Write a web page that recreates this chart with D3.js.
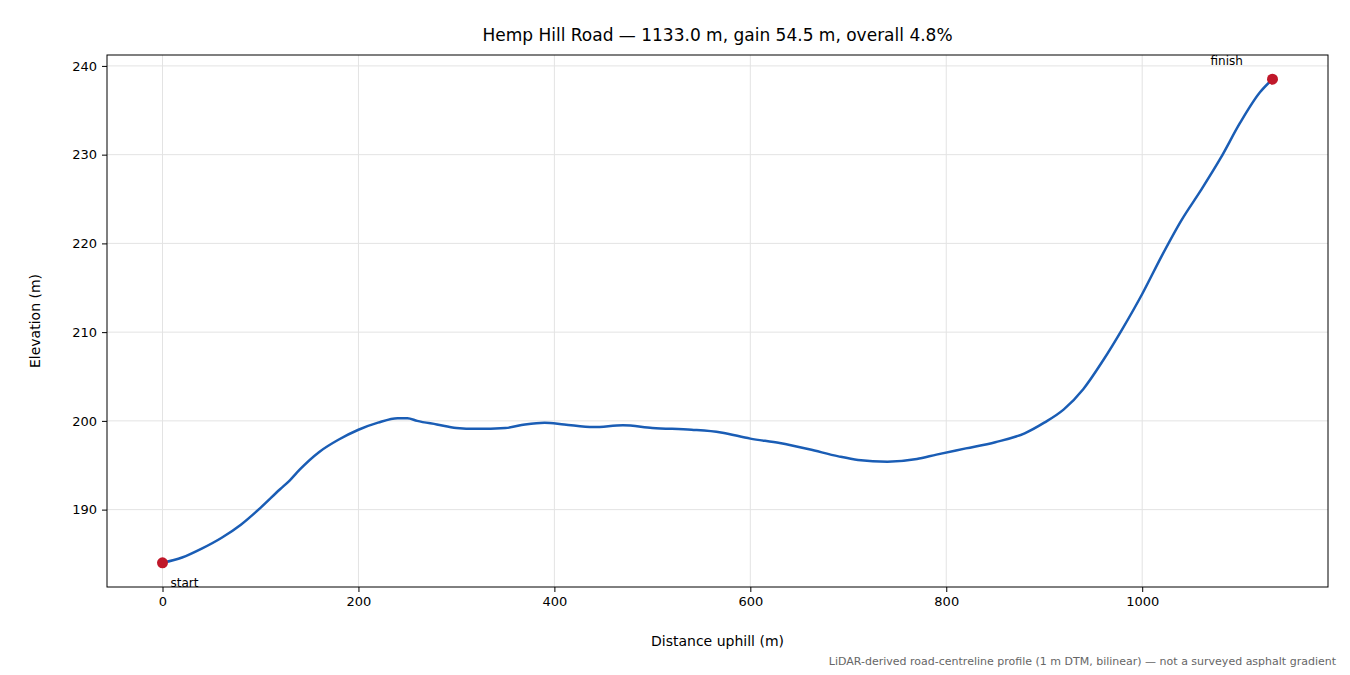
<!doctype html>
<html>
<head>
<meta charset="utf-8">
<title>Hemp Hill Road</title>
<script src="https://cdn.jsdelivr.net/npm/d3@7/dist/d3.min.js"></script>
<style>
*{margin:0;padding:0;}
body{background:white;font-family:"DejaVu Sans",sans-serif;}
</style>
</head>
<body>
<script>
// profile: distance (m), elevation (m)
var dist = [0,20,40,60,80,100,120,130,140,160,180,200,220,240,250,260,280,300,320,350,370,390,410,440,470,500,540,570,600,630,660,690,710,740,770,790,820,850,880,900,920,940,960,980,1000,1020,1040,1060,1080,1100,1120,1133];
var elev = [184.0,184.6,185.6,186.8,188.3,190.2,192.3,193.3,194.5,196.5,197.9,199.0,199.8,200.3,200.3,200.0,199.6,199.2,199.1,199.2,199.6,199.8,199.6,199.3,199.5,199.2,199.0,198.7,198.0,197.5,196.8,196.0,195.6,195.4,195.7,196.2,196.9,197.6,198.6,199.8,201.3,203.6,206.8,210.4,214.3,218.6,222.6,226.0,229.6,233.6,237.0,238.5];
var xTicks = [0,200,400,600,800,1000];
var yTicks = [190,200,210,220,230,240];

var W = 1350, H = 675;
var pL = 107, pR = 1328, pT = 55, pB = 587;

var svg = d3.select("body").append("svg").attr("width", W).attr("height", H);

var x = d3.scaleLinear().domain([-56.65, 1189.65]).range([pL, pR]);
var y = d3.scaleLinear().domain([181.28, 241.23]).range([pB, pT]);

// grid
svg.append("g").selectAll("line").data(xTicks).enter().append("line")
   .attr("x1", d => x(d)).attr("x2", d => x(d)).attr("y1", pT).attr("y2", pB)
   .attr("stroke", "#e3e3e3").attr("stroke-width", 1);
svg.append("g").selectAll("line").data(yTicks).enter().append("line")
   .attr("y1", d => y(d)).attr("y2", d => y(d)).attr("x1", pL).attr("x2", pR)
   .attr("stroke", "#e3e3e3").attr("stroke-width", 1);

// axes
var gx = svg.append("g").attr("transform", "translate(0," + pB + ")")
   .call(d3.axisBottom(x).tickValues(xTicks).tickFormat(d3.format("d")).tickSize(5).tickPadding(5));
var gy = svg.append("g").attr("transform", "translate(" + pL + ",0)")
   .call(d3.axisLeft(y).tickValues(yTicks).tickFormat(d3.format("d")).tickSize(5).tickPadding(5));
[gx, gy].forEach(function(g){
  g.select(".domain").remove();
  g.selectAll("text").attr("font-family", "DejaVu Sans").attr("font-size", 13).attr("fill", "#000");
  g.selectAll("line").attr("stroke", "#000");
});
svg.append("rect").attr("x", pL).attr("y", pT).attr("width", pR - pL).attr("height", pB - pT)
   .attr("fill", "none").attr("stroke", "#000").attr("stroke-width", 1);

// line
var pts = dist.map((d, i) => [d, elev[i]]);
svg.append("path").datum(pts)
   .attr("d", d3.line().x(d => x(d[0])).y(d => y(d[1])).curve(d3.curveMonotoneX))
   .attr("fill", "none").attr("stroke", "#1a5db5").attr("stroke-width", 2.5);

// start / finish
var ends = [pts[0], pts[pts.length - 1]];
svg.selectAll("circle.end").data(ends).enter().append("circle")
   .attr("cx", d => x(d[0])).attr("cy", d => y(d[1])).attr("r", 5.5).attr("fill", "#c0182a");
svg.append("text").attr("x", x(0) + 8).attr("y", y(184) + 24).attr("font-size", 12).text("start");
svg.append("text").attr("x", x(1133) - 62).attr("y", y(238.5) - 14).attr("font-size", 12).text("finish");

// labels
svg.append("text").attr("x", (pL + pR) / 2).attr("y", 41).attr("text-anchor", "middle")
   .attr("font-size", 17).text("Hemp Hill Road \u2014 1133.0 m, gain 54.5 m, overall 4.8%");
svg.append("text").attr("x", (pL + pR) / 2).attr("y", 646).attr("text-anchor", "middle")
   .attr("font-size", 14).text("Distance uphill (m)");
svg.append("text").attr("transform", "translate(40," + ((pT + pB) / 2) + ") rotate(-90)")
   .attr("text-anchor", "middle").attr("font-size", 14).text("Elevation (m)");
svg.append("text").attr("x", 1336).attr("y", 665).attr("text-anchor", "end")
   .attr("font-size", 11).attr("fill", "#666")
   .text("LiDAR-derived road-centreline profile (1 m DTM, bilinear) \u2014 not a surveyed asphalt gradient");
</script>
</body>
</html>
